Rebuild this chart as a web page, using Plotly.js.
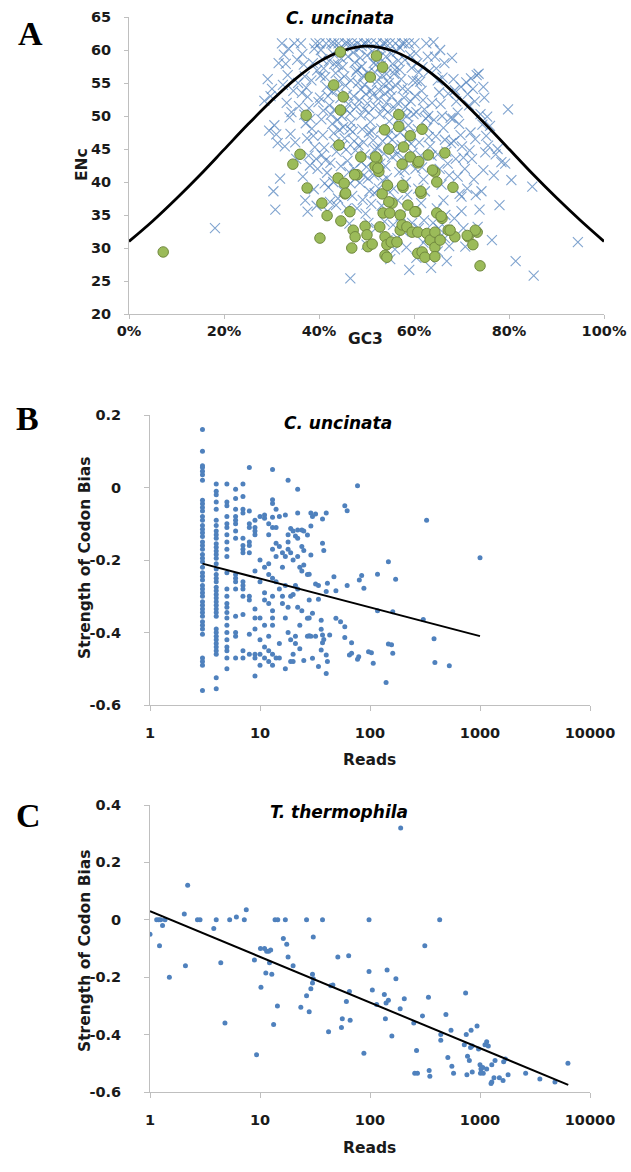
<!DOCTYPE html>
<html><head><meta charset="utf-8">
<script src="https://cdn.plot.ly/plotly-3.0.1.min.js"></script>
<style>html,body{margin:0;padding:0;background:#fff}#chart{width:631px;height:1172px}</style>
</head><body><div id="chart"></div>
<script>
// ---------- Panel A: ENc vs GC3 ----------
const curveGC3 = [0,5,10,15,20,25,30,35,40,45,50,55,60,65,70,75,80,85,90,95,100];
const curveENc = [31.0,34.1,37.5,41.1,44.9,48.7,52.3,55.6,58.2,59.9,60.6,60.0,58.3,55.7,52.4,48.8,45.0,41.2,37.6,34.2,31.0];

// [GC3 %, ENc] for all genes (crosses)
const crossPoints = [
[28.5,52.3],[29.2,55.6],[29.5,47.8],[30.1,54.1],[30.4,38.6],[30.8,35.8],[31.0,47.2],[31.3,45.9],[31.8,40.5],[31.5,58.0],[30.6,48.6],[29.8,53.0],
[32.2,61.0],[32.6,59.3],[33.0,57.9],[33.4,56.2],[33.8,49.8],[34.2,50.6],[34.6,53.8],[35.0,46.0],[35.4,58.5],[33.2,52.0],[34.0,47.3],[35.6,55.0],[32.8,45.4],[33.6,60.2],[34.8,61.0],[35.2,43.5],[35.8,51.5],[32.4,54.7],
[36.2,61.0],[36.5,59.4],[36.8,57.8],[37.0,56.0],[37.3,54.3],[37.6,52.9],[37.9,51.2],[38.2,49.6],[38.5,48.1],[38.8,47.0],[39.1,45.3],[39.4,43.5],[39.7,42.0],[36.4,53.5],[36.9,50.2],[37.2,48.9],[37.5,46.6],[37.8,44.0],[38.1,42.5],[38.4,55.4],[38.7,58.0],[39.0,60.2],[39.3,61.0],[39.6,56.9],[39.9,52.1],[36.6,40.8],[37.1,37.2],[37.6,35.5],[38.9,38.9],[39.5,36.4],
[40.1,61.0],[40.4,60.0],[40.7,58.6],[41.0,57.2],[41.3,55.9],[41.6,54.4],[41.9,53.0],[42.2,51.6],[42.5,50.2],[42.8,48.8],[43.1,47.4],[43.4,46.0],[43.7,44.6],[40.2,52.8],[40.5,49.5],[40.8,47.1],[41.1,45.2],[41.4,43.3],[41.7,41.4],[42.0,39.2],[42.3,37.0],[42.6,61.0],[42.9,59.5],[43.2,57.9],[43.5,56.5],[43.8,54.0],[40.3,56.1],[40.9,50.8],[41.5,61.0],[42.1,58.3],[42.7,53.7],[43.3,51.0],[43.9,49.4],[40.6,44.1],[41.2,39.8],[42.4,42.9],[43.0,40.0],[43.6,36.5],[41.8,35.6],[43.2,61.0],
[44.1,61.0],[44.4,60.3],[44.7,58.7],[45.0,57.4],[45.3,56.0],[45.6,54.6],[45.9,53.2],[46.2,51.8],[46.5,50.4],[46.8,49.0],[47.1,47.6],[47.4,46.2],[47.7,44.8],[44.2,55.3],[44.5,52.7],[44.8,50.0],[45.1,48.3],[45.4,46.6],[45.7,44.9],[46.0,43.2],[46.3,41.5],[46.6,39.8],[46.9,61.0],[47.2,59.6],[47.5,58.1],[47.8,56.7],[44.3,47.9],[44.9,45.5],[45.5,61.0],[46.1,59.0],[46.7,55.4],[47.3,53.0],[47.9,51.4],[44.6,42.4],[45.2,38.6],[45.8,36.0],[46.4,33.7],[47.0,37.9],[47.6,40.5],[46.0,61.0],[47.0,60.5],[44.0,57.8],[45.7,51.0],[46.5,48.0],[47.4,42.0],
[48.1,61.0],[48.4,60.2],[48.7,58.8],[49.0,57.5],[49.3,56.1],[49.6,54.7],[49.9,53.3],[50.2,51.9],[50.5,50.5],[50.8,49.1],[51.1,47.7],[51.4,46.3],[51.7,44.9],[48.2,55.0],[48.5,52.4],[48.8,50.1],[49.1,48.0],[49.4,46.0],[49.7,44.2],[50.0,42.3],[50.3,40.5],[50.6,38.6],[50.9,61.0],[51.2,59.8],[51.5,58.0],[51.8,56.6],[48.3,45.6],[48.9,43.0],[49.5,61.0],[50.1,59.2],[50.7,55.6],[51.3,53.2],[51.9,51.5],[48.6,39.9],[49.2,37.3],[49.8,35.2],[50.4,33.8],[51.0,36.7],[51.6,41.0],[50.0,61.0],[49.0,60.6],[48.0,57.0],[49.6,51.0],[50.5,47.5],[51.4,43.2],[48.8,54.0],[50.2,56.5],[51.0,53.9],[49.4,41.0],[51.7,38.3],
[52.1,61.0],[52.4,60.1],[52.7,58.9],[53.0,57.6],[53.3,56.2],[53.6,54.8],[53.9,53.4],[54.2,52.0],[54.5,50.6],[54.8,49.2],[55.1,47.8],[55.4,46.4],[55.7,45.0],[52.2,55.2],[52.5,52.6],[52.8,50.3],[53.1,48.1],[53.4,46.2],[53.7,44.3],[54.0,42.4],[54.3,40.6],[54.6,38.7],[54.9,61.0],[55.2,59.4],[55.5,57.9],[55.8,56.4],[52.3,45.1],[52.9,42.8],[53.5,61.0],[54.1,59.0],[54.7,55.0],[55.3,53.0],[55.9,51.2],[52.6,39.0],[53.2,36.4],[53.8,34.0],[54.4,31.2],[55.0,28.3],[55.6,33.5],[54.0,61.0],[53.0,60.4],[52.0,57.8],[53.6,51.2],[54.5,47.0],[55.4,43.8],[52.8,53.8],[54.2,56.4],[55.0,54.0],[53.4,40.2],[55.7,39.0],
[56.1,61.0],[56.4,59.8],[56.7,58.4],[57.0,57.0],[57.3,55.6],[57.6,54.2],[57.9,52.8],[58.2,51.4],[58.5,50.0],[58.8,48.6],[59.1,47.2],[59.4,45.8],[59.7,44.4],[56.2,54.6],[56.5,52.0],[56.8,49.6],[57.1,47.5],[57.4,45.6],[57.7,43.7],[58.0,41.8],[58.3,40.0],[58.6,38.1],[58.9,61.0],[59.2,59.2],[59.5,57.3],[59.8,55.4],[56.3,44.2],[56.9,41.5],[57.5,61.0],[58.1,58.5],[58.7,54.0],[59.3,52.2],[59.9,50.3],[56.6,37.2],[57.2,34.9],[57.8,32.5],[58.4,30.1],[59.0,26.7],[59.6,33.8],[58.0,61.0],[57.0,60.4],[56.0,57.0],[57.6,50.4],[58.5,46.5],
[60.1,61.0],[60.4,59.5],[60.7,58.0],[61.0,56.6],[61.3,55.2],[61.6,53.8],[61.9,52.4],[62.2,51.0],[62.5,49.6],[62.8,48.2],[63.1,46.8],[63.4,45.4],[63.7,44.0],[60.2,53.0],[60.5,50.6],[60.8,48.0],[61.1,46.0],[61.4,44.0],[61.7,42.2],[62.0,40.4],[62.3,38.6],[62.6,61.0],[62.9,59.0],[63.2,56.8],[60.3,42.0],[60.9,39.0],[61.5,36.8],[62.1,34.2],[62.7,31.5],[63.3,28.5],[63.6,27.0],[63.8,52.0],[61.8,57.4],[60.6,55.3],[63.0,50.0],
[64.1,61.2],[64.4,59.0],[64.7,57.2],[65.0,55.4],[65.3,53.6],[65.6,51.8],[65.9,50.0],[66.2,48.2],[66.5,46.4],[66.8,44.6],[67.1,42.8],[67.4,41.0],[64.2,49.4],[64.6,46.9],[65.0,44.2],[65.4,42.0],[65.8,39.6],[66.2,37.2],[66.6,35.0],[67.0,32.8],[67.4,30.3],[66.9,28.0],[64.8,36.0],[65.2,33.0],[66.0,55.8],[67.2,53.4],[67.7,49.7],[66.4,58.0],[65.5,60.0],[67.8,45.9],
[68.0,58.8],[68.3,55.6],[68.6,53.9],[68.9,52.2],[69.2,50.5],[69.5,48.8],[69.8,47.1],[70.1,45.4],[70.4,43.7],[70.7,42.0],[71.0,55.1],[71.3,53.3],[71.6,51.6],[68.4,46.2],[68.8,43.5],[69.2,40.8],[69.6,38.2],[70.0,35.6],[70.4,33.0],[70.8,30.2],[71.2,39.0],[71.7,44.8],[68.2,49.6],[69.9,54.4],[71.9,47.5],
[72.0,55.7],[72.4,54.1],[72.8,52.2],[73.2,56.2],[73.6,56.4],[74.0,50.3],[74.4,48.7],[74.8,52.8],[75.2,47.0],[75.6,45.5],[72.2,43.5],[72.6,40.4],[73.0,38.0],[73.4,33.2],[73.8,35.8],[74.2,38.6],[74.6,41.8],[75.0,44.5],[75.4,49.9],[72.9,46.5],[74.6,54.4],
[76.4,31.2],[76.8,41.0],[77.2,44.2],[77.6,45.0],[78.0,36.5],[78.4,43.0],[79.2,42.8],[79.8,51.0],[80.5,40.3],[76.0,48.5],
[18.1,33.0],[94.5,30.9],[85.2,25.8],[81.4,28.0],[84.9,39.3],[46.6,25.4],[60.5,28.5],[62.0,30.8],[56.0,29.8],[65.0,29.5],
[50.0,30.5],[52.0,33.0],[56.5,31.5],[61.0,33.0],[64.0,33.8],[66.5,31.5],[68.5,34.5],[70.0,37.8],[48.0,36.0],[44.0,37.5]
];

// [GC3 %, ENc] for highly expressed genes (green circles)
const greenPoints = [
[7.2,29.4],[36.0,44.2],[34.5,42.7],[37.5,39.1],[40.2,31.5],[40.6,36.8],[41.7,34.9],[44.6,34.1],[46.9,30.0],[47.2,32.7],[47.6,31.7],[49.7,33.3],[50.1,32.0],[50.3,30.2],[51.2,30.6],
[44.0,40.6],[45.3,39.8],[45.5,38.2],[46.5,35.5],[48.0,41.1],[52.2,43.5],[52.6,41.6],[53.3,38.2],[53.5,35.3],[52.8,33.2],[53.9,31.7],[54.3,30.5],[53.9,28.9],[54.3,28.6],
[55.4,36.8],[54.9,35.3],[55.2,30.9],[56.4,30.9],[57.1,35.0],[57.7,39.2],[57.1,32.7],[57.5,33.5],[58.5,33.2],[58.7,36.5],[59.6,32.4],[60.4,35.5],[60.8,32.4],[61.5,38.3],[60.8,29.2],[61.7,29.4],[62.3,28.6],[62.7,32.2],[63.4,31.2],[64.4,32.4],[64.4,30.1],[64.4,28.7],[64.8,35.3],[65.9,34.5],[65.5,31.2],[67.2,32.7],[68.6,31.7],[68.2,39.2],[64.4,41.5],[64.8,40.0],[66.5,44.4],[71.4,31.7],[72.4,30.5],[73.3,32.4],[73.9,27.3],
[48.8,43.8],[51.8,42.4],[57.5,42.7],[60.8,42.9],[59.2,43.8],[63.0,44.1],
[44.5,59.7],[52.1,59.1],[53.4,57.4],[50.8,55.9],[43.1,54.7],[45.1,52.9],[44.5,50.9],[37.3,50.1],[56.8,50.2],[56.8,48.4],[53.8,47.9],[61.7,48.0],[59.2,47.0],[57.8,45.3],[54.7,45.0],[44.2,45.6],[51.9,43.8],[61.0,43.1],[52.4,42.1],[47.5,41.1],[63.9,41.8],[57.6,39.5],[61.4,38.6],[45.6,38.3],[54.4,39.5],[54.7,37.0],[60.2,35.5],[65.7,34.8],[72.9,32.7],[67.6,32.7],[71.2,31.9]
];

// ---------- Panel B: C. uncinata, strength of codon bias vs reads ----------
// genes with few reads, grouped by read count
const bColumns = [
[3,[0.16,0.10,0.06,0.055,0.045,0.035,0.02,-0.035,-0.045,-0.055,-0.065,-0.08,-0.09,-0.105,-0.115,-0.125,-0.135,-0.15,-0.16,-0.17,-0.185,-0.195,-0.205,-0.22,-0.235,-0.245,-0.255,-0.27,-0.28,-0.29,-0.30,-0.315,-0.325,-0.335,-0.345,-0.355,-0.37,-0.38,-0.39,-0.405,-0.47,-0.48,-0.49,-0.56]],
[4,[0.01,-0.01,-0.02,-0.04,-0.06,-0.09,-0.105,-0.12,-0.13,-0.14,-0.155,-0.165,-0.175,-0.185,-0.195,-0.21,-0.225,-0.24,-0.25,-0.26,-0.275,-0.285,-0.295,-0.305,-0.315,-0.325,-0.335,-0.345,-0.355,-0.39,-0.40,-0.41,-0.42,-0.43,-0.44,-0.45,-0.46,-0.525,-0.555]],
[5,[0.01,-0.04,-0.05,-0.08,-0.10,-0.11,-0.13,-0.15,-0.17,-0.19,-0.235,-0.28,-0.30,-0.32,-0.33,-0.345,-0.36,-0.38,-0.40,-0.42,-0.44,-0.45,-0.47,-0.50]],
[6,[-0.005,-0.03,-0.06,-0.08,-0.09,-0.10,-0.12,-0.14,-0.24,-0.25,-0.26,-0.28,-0.355,-0.40,-0.41,-0.47]],
[7,[0.01,-0.025,-0.06,-0.07,-0.14,-0.16,-0.17,-0.18,-0.26,-0.27,-0.28,-0.30,-0.35,-0.45,-0.47]],
[8,[0.055,-0.065,-0.10,-0.11,-0.15,-0.16,-0.18,-0.30,-0.31,-0.405,-0.46]],
[9,[-0.09,-0.11,-0.12,-0.13,-0.23,-0.335,-0.36,-0.39,-0.46,-0.47,-0.52]]
];
// [reads, strength] for the remaining genes
const bPoints = [
[10,-0.20],[10,-0.26],[10,-0.36],[10,-0.42],[10,-0.46],[10,-0.49],[10,-0.08],
[11,-0.076],[11,-0.085],[11,-0.22],[11,-0.29],[11,-0.38],[11,-0.44],[11,-0.47],[11,-0.31],
[12,-0.10],[12,-0.13],[12,-0.21],[12,-0.32],[12,-0.41],[12,-0.45],[12,-0.48],[12,-0.24],
[13,0.05],[13,-0.034],[13,-0.044],[13,-0.082],[13,-0.30],[13,-0.34],[13,-0.36],[13,-0.38],[13,-0.46],[13,-0.49],[13,-0.17],[13,-0.25],[13,-0.11],
[14,-0.06],[14,-0.154],[14,-0.19],[14,-0.26],[14,-0.47],[14,-0.11],
[15,-0.08],[15,-0.163],[15,-0.28],[15,-0.43],[15,-0.47],
[16,-0.18],[16,-0.30],[16,-0.32],[16,-0.22],
[17,-0.076],[17,-0.19],[17,-0.50],[17,-0.36],[17,-0.27],
[18,0.02],[18,-0.15],[18,-0.33],[18,-0.40],[18,-0.17],[18,-0.13],
[19,-0.113],[19,-0.18],[19,-0.30],[19,-0.42],[19,-0.48],
[20,-0.2],[20,-0.295],[20,-0.12],[20,-0.48],[20,-0.46],
[21,-0.134],[21,-0.27],[21,-0.43],[21,-0.41],
[22,-0.005],[22,-0.117],[22,-0.19],[22,-0.28],[22,-0.33],[22,-0.07],[22,-0.14],
[23,-0.445],[23,-0.22],[23,-0.38],
[24,-0.117],[24,-0.163],[24,-0.23],[24,-0.34],
[25,-0.174],[25,-0.214],[25,-0.477],[25,-0.12],
[27,-0.131],[27,-0.361],[27,-0.41],[27,-0.24],
[28,-0.239],[28,-0.31],[28,-0.409],[28,-0.36],
[29,-0.106],[29,-0.186],[29,-0.07],[29,-0.41],
[30,-0.347],[30,-0.471],[30,-0.08],
[32,-0.073],[32,-0.266],[32,-0.41],
[34,-0.308],[34,-0.494],[34,-0.27],
[36,-0.366],[36,-0.391],[36,-0.448],
[37,-0.087],[37,-0.154],[37,-0.407],[37,-0.428],
[38,-0.174],[38,-0.419],
[40,-0.07],[40,-0.287],[40,-0.462],[40,-0.513],
[41,-0.264],[41,-0.48],[43,-0.407],[47,-0.246],[49,-0.361],[49,-0.285],[54,-0.37],
[59,-0.05],[59,-0.384],[59,-0.414],[62,-0.064],[62,-0.27],[65,-0.462],[68,-0.428],[68,-0.457],
[77,0.005],[77,-0.474],[79,-0.467],[80,-0.255],[84,-0.243],[88,-0.278],[97,-0.453],[103,-0.456],[107,-0.485],
[117,-0.239],[117,-0.34],[140,-0.538],[147,-0.205],[147,-0.432],[157,-0.434],[161,-0.343],[161,-0.457],[171,-0.253],
[305,-0.364],[327,-0.09],[382,-0.417],[389,-0.483],[526,-0.492],[1000,-0.194]
];
const bTrendReads = [3,1000];
const bTrendBias = [-0.21,-0.41];

// ---------- Panel C: T. thermophila ----------
const cPoints = [
[1.0,-0.05],[1.15,0],[1.2,0],[1.25,0],[1.22,-0.09],[1.3,-0.02],[1.37,0],[1.5,-0.2],[2.05,0.02],[2.2,0.12],[2.1,-0.16],[2.7,0],[2.85,0],[3.8,-0.03],[4,0],[4.4,-0.15],[4.8,-0.36],[5.3,0],[6.1,0.01],[7.2,0],[7.5,0.035],[8.9,-0.14],[9.3,-0.47],
[10.2,-0.235],[10.1,-0.10],[11,-0.10],[11.5,-0.11],[12,-0.11],[12.5,-0.105],[11.3,-0.185],[12.8,-0.19],[12.2,-0.15],[13.3,-0.365],[13.7,0],[14.5,0],[14.4,-0.30],[17,0],[16.3,-0.065],[17.5,-0.085],[18,-0.13],[20,-0.16],
[23.5,-0.305],[26.5,0],[26.5,-0.265],[28,-0.32],[29,-0.24],[30,-0.19],[30.5,-0.205],[30,-0.22],[30.5,-0.06],[37,0],[42,-0.39],[44,-0.23],[46,-0.227],[51,-0.13],[56,-0.345],[55,-0.375],[61,-0.285],[64,-0.125],[65,-0.25],[66,-0.35],[88,-0.465],
[98,0],[98,-0.18],[105,-0.245],[115,-0.295],[135,-0.26],[140,-0.29],[147,-0.28],[143,-0.175],[138,-0.345],[158,-0.405],[172,-0.205],[188,-0.31],[190,0.32],[205,-0.275],[250,-0.36],[255,-0.535],[270,-0.535],[265,-0.455],[300,-0.335],[315,-0.09],[340,-0.27],[345,-0.525],[350,-0.545],
[430,0],[440,-0.40],[440,-0.42],[490,-0.33],[510,-0.48],[545,-0.385],[555,-0.51],[575,-0.535],[740,-0.255],[750,-0.40],[720,-0.435],[770,-0.475],[800,-0.49],[760,-0.54],[830,-0.385],[820,-0.445],[850,-0.44],[850,-0.53],[940,-0.37],[970,-0.45],
[1000,-0.505],[1020,-0.52],[1060,-0.515],[1010,-0.535],[1070,-0.535],[1150,-0.425],[1190,-0.44],[1150,-0.52],[1280,-0.565],[1110,-0.435],[1280,-0.505],[1370,-0.49],[1640,-0.495],[1700,-0.485],[1500,-0.55],[1620,-0.56],[1340,-0.55],[1260,-0.57],[1800,-0.54],[2600,-0.535],[3500,-0.555],[4800,-0.565],[6300,-0.50]
];
const cTrendReads = [1,6340];
const cTrendBias = [0.03,-0.575];

// tick labels
const gcTicks = [0,0.2,0.4,0.6,0.8,1.0];
const gcTickText = ['0%','20%','40%','60%','80%','100%'];
const encTicks = [20,25,30,35,40,45,50,55,60,65];
const readTicks = [1,10,100,1000,10000];
const readTickText = ['1','10','100','1000','10000'];
const bBiasTicks = [-0.6,-0.4,-0.2,0,0.2];
const bBiasText = ['-0.6','-0.4','-0.2','0','0.2'];
const cBiasTicks = [-0.6,-0.4,-0.2,0,0.2,0.4];
const cBiasText = ['-0.6','-0.4','-0.2','0','0.2','0.4'];

// ---------- build ----------
const W = 631, H = 1172;
const px = v => v / W, py = v => 1 - v / H;
const blue = '#4f81bd';
const sans = '"DejaVu Sans", Verdana, sans-serif';
const tickFont = {family:sans, size:14.5, color:'#1a1a1a', weight:'bold'};

const bx = [], by = [];
bColumns.forEach(c => c[1].forEach(v => { bx.push(c[0]); by.push(v); }));
bPoints.forEach(p => { bx.push(p[0]); by.push(p[1]); });

const traces = [
  {x: crossPoints.map(p => p[0]/100), y: crossPoints.map(p => p[1]), xaxis:'x', yaxis:'y', mode:'markers', type:'scatter',
   marker:{symbol:'x-thin', size:10, line:{width:1.1, color:'rgba(79,129,189,0.72)'}, color:'rgba(79,129,189,0.72)'}},
  {x: curveGC3.map(v => v/100), y: curveENc, xaxis:'x', yaxis:'y', mode:'lines', type:'scatter',
   line:{color:'#000', width:2.8, shape:'spline'}},
  {x: greenPoints.map(p => p[0]/100), y: greenPoints.map(p => p[1]), xaxis:'x', yaxis:'y', mode:'markers', type:'scatter',
   marker:{symbol:'circle', size:10.5, color:'#9bbb59', line:{width:1, color:'#71893f'}}},
  {x: bx, y: by, xaxis:'x2', yaxis:'y2', mode:'markers', type:'scatter',
   marker:{symbol:'circle', size:5, color:blue}},
  {x: bTrendReads, y: bTrendBias, xaxis:'x2', yaxis:'y2', mode:'lines', type:'scatter', line:{color:'#000', width:2}},
  {x: cPoints.map(p => p[0]), y: cPoints.map(p => p[1]), xaxis:'x3', yaxis:'y3', mode:'markers', type:'scatter',
   marker:{symbol:'circle', size:5, color:blue}},
  {x: cTrendReads, y: cTrendBias, xaxis:'x3', yaxis:'y3', mode:'lines', type:'scatter', line:{color:'#000', width:2}}
];

const axBase = {showline:true, linecolor:'#bfbfbf', linewidth:1, ticks:'outside', ticklen:5, tickcolor:'#bfbfbf',
  showgrid:false, zeroline:false, tickfont:tickFont, fixedrange:true};

const layout = {
  width:W, height:H, margin:{l:0,r:0,t:0,b:0}, showlegend:false,
  paper_bgcolor:'#fff', plot_bgcolor:'rgba(0,0,0,0)',
  xaxis: Object.assign({}, axBase, {domain:[px(129),px(604)], range:[0,1], tickvals:gcTicks, ticktext:gcTickText, anchor:'y', ticklen:4, ticklabelstandoff:0}),
  yaxis: Object.assign({}, axBase, {domain:[py(314),py(17)], range:[20,65], tickvals:encTicks, anchor:'x', ticklen:4, ticklabelstandoff:10}),
  xaxis2: Object.assign({}, axBase, {domain:[px(150),px(590)], type:'log', range:[0,4], tickvals:readTicks, ticktext:readTickText, anchor:'y2', ticklabelstandoff:10}),
  yaxis2: Object.assign({}, axBase, {domain:[py(705),py(415)], range:[-0.6,0.2], tickvals:bBiasTicks, ticktext:bBiasText, anchor:'x2', ticklabelstandoff:20}),
  xaxis3: Object.assign({}, axBase, {domain:[px(150),px(590)], type:'log', range:[0,4], tickvals:readTicks, ticktext:readTickText, anchor:'y3', ticklabelstandoff:10}),
  yaxis3: Object.assign({}, axBase, {domain:[py(1092),py(805)], range:[-0.6,0.4], tickvals:cBiasTicks, ticktext:cBiasText, anchor:'x3', ticklabelstandoff:20}),
  annotations: []
};

const ann = (text, x, y, font, extra) => Object.assign({text, x:px(x), y:py(y), xref:'paper', yref:'paper',
  xanchor:'center', yanchor:'middle', showarrow:false, font}, extra || {});
const letterFont = {family:'"Liberation Serif", "Times New Roman", serif', size:34, color:'#000', weight:'bold'};
const titleFont = {family:sans, size:17, color:'#000', weight:'bold', style:'italic'};
const axTitleFont = {family:sans, size:15.5, color:'#1a1a1a', weight:'bold'};

layout.annotations.push(
  ann('A', 30, 34, letterFont), ann('B', 27, 418, letterFont), ann('C', 28, 815, letterFont),
  ann('C. uncinata', 340, 18, titleFont), ann('C. uncinata', 338, 423, titleFont), ann('T. thermophila', 339, 812, titleFont),
  ann('ENc', 82, 165, axTitleFont, {textangle:-90}), ann('GC3', 366, 339, axTitleFont),
  ann('Strength of Codon Bias', 85, 558, axTitleFont, {textangle:-90}), ann('Reads', 369, 760, axTitleFont),
  ann('Strength of Codon Bias', 85, 951, axTitleFont, {textangle:-90}), ann('Reads', 369, 1148, axTitleFont)
);

Plotly.newPlot('chart', traces, layout, {staticPlot:true, displayModeBar:false});
</script>
</body></html>
